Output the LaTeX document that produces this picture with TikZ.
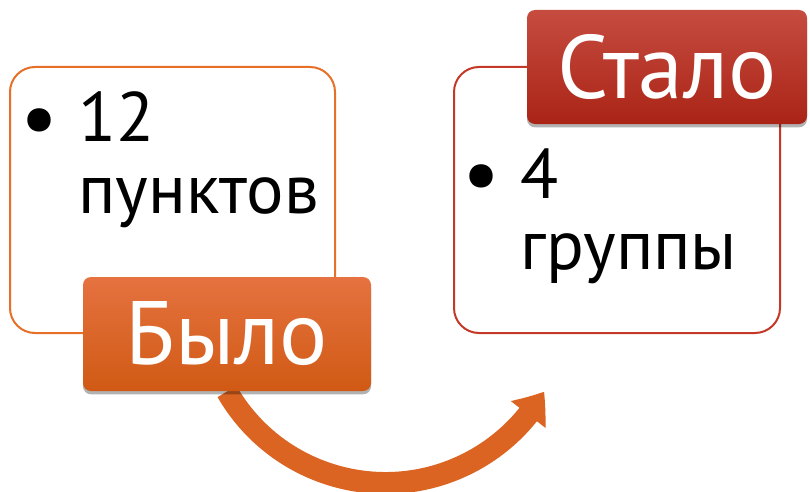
\documentclass[tikz,border=0pt]{standalone}
\usepackage{fontspec}
\setmainfont{PT Sans}
\usetikzlibrary{arrows.meta,bending,shadows,backgrounds}

\definecolor{wasTop}{RGB}{229,114,64}
\definecolor{wasBot}{RGB}{208,90,20}
\definecolor{nowTop}{RGB}{198,76,64}
\definecolor{nowBot}{RGB}{170,36,22}
\definecolor{boxOrange}{RGB}{230,112,40}
\definecolor{boxRed}{RGB}{196,56,40}
\definecolor{arcOrange}{RGB}{219,100,34}

\tikzset{every picture/.style={line width=0.75pt}}
\tikzset{
  listbox/.style={draw, line width=1.5pt, fill=white, rounded corners=18.75pt,
    minimum width=243.75pt, minimum height=199.5pt, inner sep=0pt},
  tagbox/.style={rounded corners=6pt, minimum height=85.5pt, inner sep=0pt,
    text=white, font=\fontsize{67.5}{70}\selectfont,
    drop shadow={shadow xshift=0pt, shadow yshift=-2.5pt, opacity=0.3, fill=black}},
  itemtext/.style={anchor=base west, inner sep=0pt,
    font=\fontsize{52.5}{53.25}\selectfont},
}

\begin{document}
\begin{tikzpicture}[x=0.75pt,y=0.75pt,yscale=-1,xscale=1]
\useasboundingbox (0,0) rectangle (810,492);

%Shape: Rounded Rect [id:before]
\node [listbox, draw=boxOrange] (before) at (172.5,200) {};
%Shape: Rounded Rect [id:after]
\node [listbox, draw=boxRed, minimum width=244.5pt] (after) at (617,200) {};

% Text Node
\node [itemtext] (beforeone) at (78,142) {12};
\node [itemtext] (beforetwo) at (78,213) {пунктов};
\node [itemtext, anchor=base east, scale=1.2] (beforebullet) at ([xshift=-14pt,yshift=3pt]beforeone.base west) {•};
% Text Node
\node [itemtext] (afterone) at (520,198) {4};
\node [itemtext] (aftertwo) at (520,269) {группы};
\node [itemtext, anchor=base east, scale=1.2] (afterbullet) at ([xshift=-14pt,yshift=3pt]afterone.base west) {•};

%Shape: Label [id:was]
\node [tagbox, minimum width=216pt, top color=wasTop, bottom color=wasBot] (was) at (227,334) {Было};
%Shape: Label [id:now]
\node [tagbox, minimum width=210pt, top color=nowTop, bottom color=nowBot] (now) at (667,67) {Стало};

%Curve Arrow [id:change]
\begin{scope}[on background layer]
\draw [arcOrange, line width=16.5pt, -{Triangle[width=31.5pt,length=21pt,bend]}]
  (was.south) arc [start angle=150, end angle=30, radius=183];
\end{scope}

\end{tikzpicture}
\end{document}
